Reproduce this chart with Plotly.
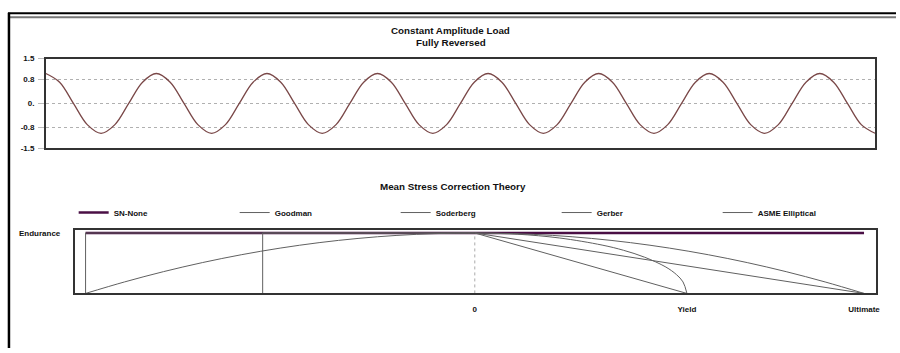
import plotly.graph_objects as go

# ---------------- data ----------------
# Constant amplitude load (fully reversed): one cycle sampled at 1/8 period
load_cycle = [1.0, 0.71, 0.0, -0.71, -1.0, -0.71, 0.0, 0.71]
n_cycles = 7
load_tail = [1.0, 0.71, 0.0, -0.71, -1.0]
load_values = load_cycle * n_cycles + load_tail
samples_per_cycle = 8

load_ticks = [1.5, 0.8, 0.0, -0.8, -1.5]
load_ticktext = ["1.5", "0.8", "0.", "-0.8", "-1.5"]

# Mean-stress axis (normalised by ultimate strength)
ultimate = 1.0
yield_s = 0.545
endurance = 1.0
stress_ticks = [0.0, yield_s, ultimate]
stress_ticktext = ["0", "Yield", "Ultimate"]

sn_x = [-1.0, 1.0]
sn_y = [1.0, 1.0]

goodman_x = [-1.0, -1.0, 0.0, 1.0]
goodman_y = [0.0, 1.0, 1.0, 0.0]

soderberg_x = [-0.545, -0.545, 0.0, 0.545]
soderberg_y = [0.0, 1.0, 1.0, 0.0]

gerber_x = [-1.0, -0.9, -0.8, -0.7, -0.6, -0.5, -0.4, -0.3, -0.2, -0.1, 0.0,
            0.1, 0.2, 0.3, 0.4, 0.5, 0.6, 0.7, 0.8, 0.9, 1.0]
gerber_y = [0.0, 0.19, 0.36, 0.51, 0.64, 0.75, 0.84, 0.91, 0.96, 0.99, 1.0,
            0.99, 0.96, 0.91, 0.84, 0.75, 0.64, 0.51, 0.36, 0.19, 0.0]

asme_x = [0.0, 0.109, 0.218, 0.327, 0.382, 0.436, 0.491, 0.518, 0.535, 0.545]
asme_y = [1.0, 0.98, 0.917, 0.80, 0.714, 0.60, 0.436, 0.312, 0.19, 0.0]

zero_x = [0.0, 0.0]
zero_y = [0.0, 1.0]

# ---------------- styles ----------------
W, H = 900, 353
FONT = "Liberation Sans"
SINE_COLOR = "#7a4848"
SN_COLOR = "#4a0f45"
CURVE_COLOR = "#606060"
BOX_COLOR = "#333333"


def px_x(p):
    return p / W


def px_y(p):
    return 1 - p / H


fig = go.Figure()

load_x = [i / samples_per_cycle for i in range(len(load_values))]
fig.add_trace(go.Scatter(x=load_x, y=load_values, mode="lines",
                         line=dict(color=SINE_COLOR, width=1.3, shape="spline"),
                         showlegend=False, xaxis="x", yaxis="y", hoverinfo="skip"))

fig.add_trace(go.Scatter(x=zero_x, y=zero_y, mode="lines",
                         line=dict(color="#aaaaaa", width=1, dash="dot"),
                         showlegend=False, xaxis="x2", yaxis="y2", hoverinfo="skip"))

curves = [
    ("SN-None", sn_x, sn_y, SN_COLOR, 2.5, "linear"),
    ("Goodman", goodman_x, goodman_y, CURVE_COLOR, 1, "linear"),
    ("Soderberg", soderberg_x, soderberg_y, CURVE_COLOR, 1, "linear"),
    ("Gerber", gerber_x, gerber_y, CURVE_COLOR, 1, "spline"),
    ("ASME Elliptical", asme_x, asme_y, CURVE_COLOR, 1, "spline"),
]
for name, xs, ys, col, wd, shp in curves:
    fig.add_trace(go.Scatter(x=xs, y=ys, mode="lines", name="<b>%s</b>" % name,
                             line=dict(color=col, width=wd, shape=shp),
                             xaxis="x2", yaxis="y2"))

fig.update_layout(
    width=W, height=H, autosize=False,
    margin=dict(l=0, r=0, t=0, b=0),
    paper_bgcolor="white", plot_bgcolor="white",
    font=dict(family=FONT, size=8, color="#111111"),
    xaxis=dict(domain=[px_x(46), px_x(879)], range=[0, 7.5],
               showticklabels=False, ticks="", showgrid=False, zeroline=False,
               showline=True, mirror=True, linecolor=BOX_COLOR, linewidth=1.5),
    yaxis=dict(domain=[px_y(148), px_y(56)], range=[-1.5, 1.5],
               tickvals=load_ticks, ticktext=["<b>%s</b>" % t for t in load_ticktext],
               ticks="outside", ticklen=6, tickcolor="#bbbbbb",
               showgrid=True, gridcolor="#b0b0b0", griddash="dot", gridwidth=1,
               zeroline=False, showline=True, mirror=True,
               linecolor=BOX_COLOR, linewidth=1.5, ticklabelstandoff=2),
    xaxis2=dict(domain=[px_x(75), px_x(880)], range=[-1.028, 1.031],
                tickvals=stress_ticks, ticktext=["<b>%s</b>" % t for t in stress_ticktext],
                ticks="", showgrid=False, zeroline=False, ticklabelstandoff=7,
                showline=True, mirror=True, linecolor=BOX_COLOR, linewidth=1.5,
                anchor="y2"),
    yaxis2=dict(domain=[px_y(297), px_y(232)], range=[0, 1.048],
                tickvals=[endurance], ticktext=["<b>Endurance</b>"],
                ticks="", showgrid=False, zeroline=False, ticklabelstandoff=11,
                showline=True, mirror=True, linecolor=BOX_COLOR, linewidth=1.5,
                anchor="x2"),
    legend=dict(orientation="h", x=px_x(74), y=px_y(214), xanchor="left", yanchor="middle",
                entrywidth=116, entrywidthmode="pixels", font=dict(size=8, family=FONT),
                bgcolor="rgba(0,0,0,0)", traceorder="normal", itemclick=False),
    showlegend=True,
)

annots = [
    ("<b>Constant Amplitude Load</b>", 453, 27),
    ("<b>Fully Reversed</b>", 453, 40),
    ("<b>Mean Stress Correction Theory</b>", 455, 187),
]
for txt, ax, ay in annots:
    fig.add_annotation(text=txt, x=px_x(ax), y=px_y(ay), xref="paper", yref="paper",
                       showarrow=False, xanchor="center", yanchor="middle",
                       font=dict(size=9.8, family=FONT, color="#111111"))

# outer frame
fig.add_shape(type="line", xref="paper", yref="paper", x0=px_x(8), x1=1, y0=px_y(9.5), y1=px_y(9.5),
              line=dict(color="#000000", width=2))
fig.add_shape(type="line", xref="paper", yref="paper", x0=px_x(10), x1=1, y0=px_y(13.5), y1=px_y(13.5),
              line=dict(color="#777777", width=2))
fig.add_shape(type="line", xref="paper", yref="paper", x0=px_x(9), x1=px_x(9), y0=px_y(9), y1=0,
              line=dict(color="#000000", width=2.5))

fig.write_html("out.html")
